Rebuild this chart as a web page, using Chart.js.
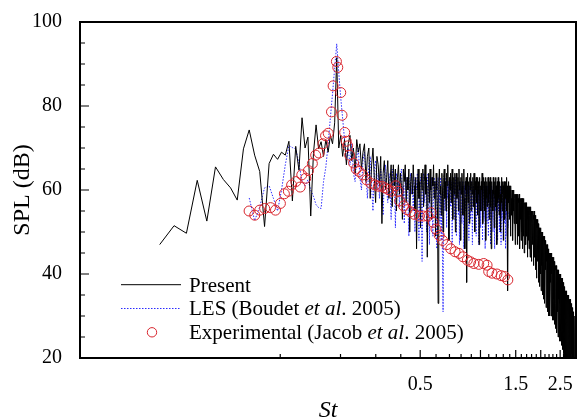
<!DOCTYPE html>
<html>
<head>
<meta charset="utf-8">
<script src="https://cdn.jsdelivr.net/npm/chart.js@4.4.1/dist/chart.umd.min.js"></script>
<style>
  html, body { margin: 0; padding: 0; background: #fff; overflow: hidden; }
  canvas { display: block; }
</style>
</head>
<body>
<canvas id="spectrum" width="582" height="418"></canvas>
<script>
// Far-field SPL spectra against Strouhal number.
// Both computed spectra sit on the same uniform St bins.
const binStep = 0.0045;

const presentStart = 0.025;
const presentSpl = [
  47.0, 51.5, 49.7, 62.3, 52.6, 65.5, 62.5, 60.5, 57.6, 69.8,
  74.3, 68.3, 64.4, 51.3, 66.3, 68.5, 67.3, 69.0, 68.3, 71.6,
  57.4, 70.4, 64.7, 77.2, 70.0, 72.6, 53.8, 68.7, 75.5, 69.8,
  71.5, 68.0, 72.0, 69.0, 73.0, 71.0, 76.0, 91.5,
  70, 73, 68, 72, 66, 71, 73, 67, 70, 64, 72, 69,
  71, 65, 69, 71, 62, 68, 70, 58, 66, 70, 63, 57, 68,
  66, 61, 68, 52, 64, 67, 60, 63, 67, 58, 62, 66, 56, 66, 61, 65, 55,
  63, 66, 59, 64, 61, 53, 65, 62, 66, 57, 63, 60, 65, 50, 62, 64, 59, 66, 61, 55,
  63, 46, 60, 65, 58, 62, 51,
  64, 60, 65, 56, 62, 66, 59, 63, 44, 61, 64, 57, 65, 60, 53, 63, 61, 66, 58, 62,
  49, 64, 60, 56, 33, 62, 65, 59, 61, 54, 64, 60, 50,
  63, 65, 58, 62, 55, 64, 61, 66, 59, 48, 63, 60, 64, 57, 62, 65, 53, 61, 63, 59,
  64, 50, 62,
  64, 58, 61, 63, 55, 65, 60, 62, 48, 63, 59, 64, 61, 54, 62, 65, 58, 46, 62, 60,
  63, 38, 61, 64, 57, 62, 59, 52, 63, 60, 64, 55, 61,
  62, 59, 63, 56, 61, 64, 58, 50, 62, 60, 63, 57, 61, 54, 63, 59, 62, 47, 60, 63,
  58, 61, 55, 62, 60, 64, 57, 52, 61, 63, 59, 62, 55, 60, 63, 48, 61, 58, 62, 56,
  60, 63, 57, 61, 53, 62, 59, 63, 56, 60, 46, 61, 62, 58, 60, 55, 63, 59, 61, 51,
  62, 58, 60, 63, 56, 61, 59, 47, 62, 60, 57, 63, 58, 61, 54, 60, 62, 56, 59, 50,
  61, 63, 57, 60, 55, 62, 59, 61, 48, 60, 62, 57, 59, 53, 61,
  62, 58, 60, 55, 63, 59, 61, 50, 36, 60, 62, 57, 59, 53, 61, 58, 60, 49, 59, 61,
  56, 58, 54, 60, 57, 59, 48, 58, 60, 55, 57, 52, 59, 56, 58, 47, 57, 59, 53, 56,
  59, 52, 58, 47, 57, 59, 54, 58, 49, 57, 59, 51, 58, 46, 56, 58, 53, 57, 48, 58,
  56, 50, 58, 55, 46, 57, 53, 58, 49, 56, 57, 45, 56, 54, 57, 50, 55, 57, 47, 56,
  54, 57, 49, 55, 56, 44, 56, 53, 55, 48, 56, 54, 46, 55, 56, 51, 54, 44, 55, 53,
  56, 48, 54, 55, 43, 54, 52, 55, 47, 53, 55, 50, 54, 42, 53, 55, 49, 54, 51, 44,
  53, 48, 54, 41, 52, 53, 46, 52, 39, 51, 53, 47, 52, 43, 51, 52, 38, 50, 52, 45,
  51, 49, 37, 51, 50, 44, 51, 40, 50, 49, 36, 50, 47, 50, 42, 49, 50, 35, 48, 49,
  43, 49, 46, 34, 48, 49, 40, 48, 45, 33, 47, 48, 41, 47, 44, 48, 32, 46, 47, 39,
  46, 43, 47, 31, 45, 46, 38, 45, 42, 46, 30, 44, 45, 37, 44, 41, 45, 30, 43, 44,
  38, 45, 41, 44, 30, 43, 45, 36, 44, 40, 44, 29, 43, 44, 35, 43, 39, 44, 29, 42,
  43, 34, 43, 38, 42, 28, 42, 43, 33, 42, 37, 42, 27, 41, 42, 32, 41, 36, 41, 26,
  41, 40, 31, 41, 35, 40, 25, 40, 41, 30, 40, 34, 39, 24, 39, 40, 29, 39, 33, 38,
  24, 39, 40, 28, 38, 32, 38, 23, 38, 39,
  28, 39, 33, 38, 22, 38, 39, 27, 38, 32, 37, 21, 37, 38, 26, 37, 31, 36, 20, 36,
  37, 26, 36, 30, 36, 20, 35, 36, 25, 35, 30, 35, 19, 35, 36, 24, 35, 29, 34, 19,
  34, 35, 24, 34, 29, 34, 18, 34, 35, 23, 34, 28, 33, 18, 33, 34, 22, 33, 27, 33,
  18, 33, 34, 22, 33, 27, 32, 17, 32, 33, 21, 32, 26, 31, 17, 31, 32, 21, 31, 30,
  22, 30, 31, 20, 30, 26, 30, 17, 29, 30
];

const lesStart = 0.07;
const lesSpl = [
  58.1, 52.7, 56, 60.5, 61, 58, 55, 60, 66, 70.6,
  70.1, 69.8, 66.3, 62, 61, 62.4, 60, 58.5, 56.5, 55.8,
  55.6, 62, 65.5, 71, 77.2, 83, 89, 94.8,
  88, 82, 77, 72, 67,
  70, 66, 71, 64, 62, 68, 70, 63, 60, 67, 69, 64, 58, 66, 68, 61, 55, 65, 67, 60,
  64, 58, 65, 62, 54, 63, 66, 60, 57, 64, 62, 53, 65, 61, 63, 51, 64, 60, 62, 56,
  63, 65, 58, 61, 52, 64, 60, 63, 57, 49, 62, 64, 59, 61, 55, 63, 50, 62, 60, 64,
  56, 48, 61, 63,
  58, 43, 62, 64, 57, 60, 63, 50, 61, 64, 58, 47, 62, 60, 63, 55, 49, 61, 63, 58,
  62, 54, 46, 61, 63, 57, 60, 52, 63, 48, 59, 44, 31,
  58, 62, 55, 60, 63, 51, 61, 58, 62, 48, 60, 63, 56, 59, 62, 47, 61, 58, 62, 53,
  60, 63, 57, 49, 61, 59, 62, 54, 60, 47, 62, 59, 61, 56, 52, 62, 60, 58, 46, 61,
  59, 62, 55, 60, 50, 61, 59, 62, 57, 48, 61, 60, 58, 53, 62, 59, 56, 47, 60, 61,
  57, 60, 52, 59, 61, 55, 49, 60, 58, 61, 54, 59, 47, 61, 58, 60, 56, 51, 59, 61,
  55, 60, 48, 59, 61, 57, 53, 60, 58, 46, 61, 59, 56, 60, 52, 58, 61, 55, 49, 60,
  58, 61, 54, 59, 47, 60, 58, 61, 53, 57, 60, 50, 59, 61, 56, 58, 46, 60, 59, 55,
  61, 57, 52, 59, 60, 48, 58, 61, 55, 59, 57, 50, 60, 58, 54, 61, 47, 59, 57, 53,
  60, 58, 55, 48, 59, 60, 56, 58, 52, 59, 57, 46, 58, 60, 54, 57, 49, 58, 56, 51, 55
];

const expSt = [
  0.0699, 0.0746, 0.0790, 0.0836, 0.0894, 0.0947, 0.1002, 0.1049, 0.1098, 0.1140,
  0.1197, 0.1258, 0.1281, 0.1341, 0.1383, 0.1447, 0.1503, 0.1562, 0.1635, 0.1684,
  0.1736, 0.1803, 0.1837, 0.1908, 0.1938, 0.2005, 0.2035, 0.2099, 0.2137, 0.2172,
  0.2222, 0.2325, 0.2395, 0.2478, 0.2584, 0.2705, 0.2831, 0.2973, 0.3090, 0.3208,
  0.3331, 0.3462, 0.3594, 0.3774, 0.3878, 0.3949, 0.4133, 0.4296, 0.4476, 0.4684,
  0.4958, 0.5189, 0.5455, 0.5664, 0.5813, 0.5995, 0.6225, 0.6470, 0.6794, 0.7111,
  0.7467, 0.7814, 0.8178, 0.8598, 0.8927, 0.9267, 0.9808, 1.038, 1.079, 1.099,
  1.142, 1.209, 1.269, 1.318, 1.370
];
const expSpl = [
  55.0, 54.0, 55.2, 55.6, 55.8, 55.2, 56.8, 59.1, 59.7, 61.2,
  62.0, 60.7, 63.6, 62.8, 64.6, 66.3, 68.3, 68.8, 71.0, 72.9,
  73.5, 78.6, 84.8, 90.6, 89.2, 83.2, 77.8, 73.7, 71.6, 70.5,
  68.3, 66.4, 65.0, 64.4, 63.6, 62.4, 61.6, 61.2, 60.9, 60.9,
  60.5, 60.1, 59.7, 61.0, 59.7, 57.4, 56.2, 55.3, 54.8, 54.2,
  53.8, 53.8, 53.8, 54.6, 52.3, 50.7, 49.2, 48.0, 47.0, 46.0,
  45.3, 44.9, 44.1, 43.3, 42.9, 42.5, 42.3, 42.5, 42.1, 40.6,
  40.2, 40.0, 39.6, 39.4, 38.6
];

const xTickValues = [
  0.1, 0.2, 0.3, 0.4, 0.5, 0.6, 0.7, 0.8, 0.9, 1,
  1.1, 1.2, 1.3, 1.4, 1.5, 1.6, 1.7, 1.8, 1.9, 2,
  2.1, 2.2, 2.3, 2.4, 2.5, 2.6, 2.7, 2.8, 2.9
];
const xMajorTicks = [0.5, 1, 1.5, 2, 2.5];
const xLabelledTicks = [0.5, 1.5, 2.5];

const SERIF = '"Liberation Serif", "Times New Roman", serif';

const toPoints = (start, values) => values.map((v, i) => ({ x: start + i * binStep, y: v }));

// ticks point into the plot, and the frame is closed on all sides
const inwardTicks = {
  id: 'inwardTicks',
  afterDatasetsDraw(chart) {
    const { ctx, chartArea: area, scales: { x, y } } = chart;
    ctx.save();
    ctx.strokeStyle = '#000';
    ctx.lineWidth = 1.2;
    ctx.beginPath();
    x.ticks.forEach(t => {
      const px = x.getPixelForValue(t.value);
      const len = xMajorTicks.includes(t.value) ? 8 : 4;
      ctx.moveTo(px, area.bottom);
      ctx.lineTo(px, area.bottom - len);
    });
    y.ticks.forEach(t => {
      const py = y.getPixelForValue(t.value);
      const len = t.value % 20 === 0 ? 9 : 5;
      ctx.moveTo(area.left, py);
      ctx.lineTo(area.left + len, py);
    });
    ctx.stroke();
    ctx.lineWidth = 2;
    ctx.strokeRect(area.left, area.top, area.width, area.height);
    ctx.restore();
  }
};

// legend with italic "et al."
const legendRows = [
  { kind: 'line', parts: [['Present', false]] },
  { kind: 'dots', parts: [['LES (Boudet ', false], ['et al', true], ['. 2005)', false]] },
  { kind: 'circle', parts: [['Experimental (Jacob ', false], ['et al', true], ['. 2005)', false]] }
];

const seriesLegend = {
  id: 'seriesLegend',
  afterDraw(chart) {
    const { ctx } = chart;
    const x0 = 121, x1 = 181, textX = 189;
    ctx.save();
    legendRows.forEach((row, i) => {
      const base = 291.5 + i * 23.8;
      const mid = base - 6.8;
      if (row.kind === 'line') {
        ctx.strokeStyle = '#000';
        ctx.lineWidth = 1;
        ctx.beginPath();
        ctx.moveTo(x0, mid);
        ctx.lineTo(x1, mid);
        ctx.stroke();
      } else if (row.kind === 'dots') {
        ctx.strokeStyle = '#2b2bff';
        ctx.lineWidth = 1;
        ctx.setLineDash([1.5, 1.5]);
        ctx.beginPath();
        ctx.moveTo(x0, mid);
        ctx.lineTo(x1, mid);
        ctx.stroke();
        ctx.setLineDash([]);
      } else {
        ctx.strokeStyle = '#d8262e';
        ctx.lineWidth = 1;
        ctx.beginPath();
        ctx.arc(152, mid, 4.7, 0, Math.PI * 2);
        ctx.stroke();
      }
      let tx = textX;
      ctx.fillStyle = '#000';
      ctx.textBaseline = 'alphabetic';
      row.parts.forEach(([text, italic]) => {
        ctx.font = (italic ? 'italic ' : '') + '21px ' + SERIF;
        ctx.fillText(text, tx, base);
        tx += ctx.measureText(text).width;
      });
    });
    ctx.restore();
  }
};

new Chart(document.getElementById('spectrum'), {
  type: 'line',
  data: {
    datasets: [
      {
        label: 'Present',
        data: toPoints(presentStart, presentSpl),
        borderColor: '#000',
        borderWidth: 1,
        pointRadius: 0,
        order: 2
      },
      {
        label: 'LES (Boudet et al. 2005)',
        data: toPoints(lesStart, lesSpl),
        borderColor: '#2b2bff',
        borderWidth: 1,
        borderDash: [1.5, 1.5],
        pointRadius: 0,
        order: 3
      },
      {
        label: 'Experimental (Jacob et al. 2005)',
        data: expSt.map((s, i) => ({ x: s, y: expSpl[i] })),
        showLine: false,
        pointRadius: 5,
        pointBorderWidth: 1,
        pointBorderColor: '#d8262e',
        pointBackgroundColor: 'rgba(0,0,0,0)',
        order: 1
      }
    ]
  },
  options: {
    responsive: false,
    animation: false,
    layout: { padding: { top: 16, right: 0, bottom: 0, left: 0 } },
    plugins: { legend: { display: false }, tooltip: { enabled: false } },
    scales: {
      x: {
        type: 'logarithmic',
        min: 0.01,
        max: 3,
        afterBuildTicks(scale) {
          scale.ticks = xTickValues.map(v => ({ value: v }));
        },
        afterFit(scale) { scale.height = 60; },
        grid: { display: false },
        border: { display: false },
        ticks: {
          autoSkip: false,
          maxRotation: 0,
          padding: 7,
          color: '#000',
          font: { family: SERIF, size: 20 },
          callback: v => xLabelledTicks.includes(v) ? String(v) : ''
        },
        title: {
          display: true,
          text: 'St',
          color: '#000',
          font: { family: SERIF, size: 24, style: 'italic', lineHeight: 1 },
          padding: { top: 0, bottom: -5 }
        }
      },
      y: {
        min: 20,
        max: 100,
        afterFit(scale) { scale.width = 80; },
        grid: { display: false },
        border: { display: false },
        ticks: {
          stepSize: 5,
          autoSkip: false,
          padding: 10,
          color: '#000',
          font: { family: SERIF, size: 20 },
          callback: v => v % 20 === 0 ? String(v) : ''
        },
        title: {
          display: true,
          text: 'SPL (dB)',
          color: '#000',
          font: { family: SERIF, size: 24 },
          padding: { top: 8, bottom: 0 }
        }
      }
    }
  },
  plugins: [inwardTicks, seriesLegend]
});
</script>
</body>
</html>
